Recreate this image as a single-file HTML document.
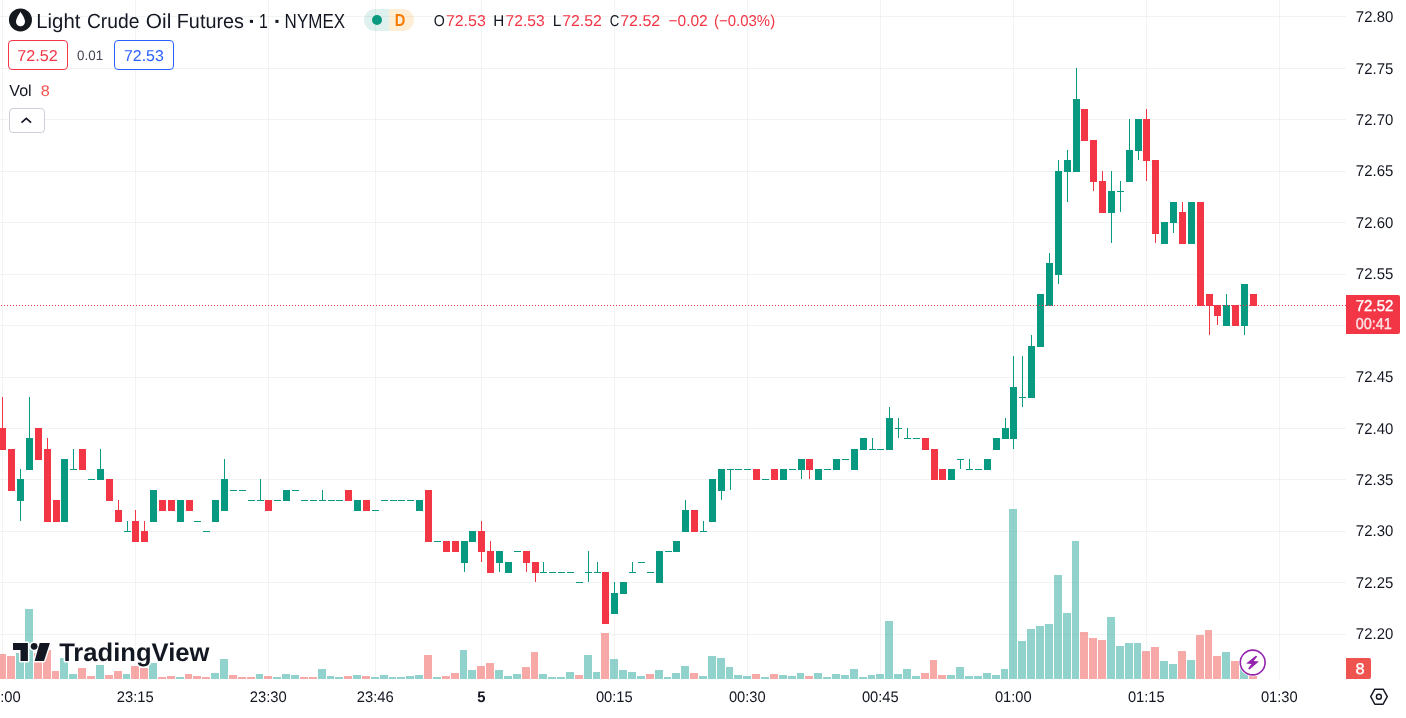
<!DOCTYPE html>
<html><head><meta charset="utf-8"><title>Light Crude Oil Futures</title>
<style>
html,body{margin:0;padding:0;background:#fff}
body{width:1406px;height:718px;position:relative;overflow:hidden;font-family:"Liberation Sans",sans-serif;color:#131722}
.chart{position:absolute;left:0;top:0}
.abs{position:absolute}
.box{position:absolute;box-sizing:border-box;border:1px solid;border-radius:4px}
</style></head><body>
<svg class="chart" width="1406" height="718" viewBox="0 0 1406 718" shape-rendering="crispEdges"><rect x="0" y="634" width="1346" height="1" fill="#264848" fill-opacity="0.06"/>
<rect x="0" y="582" width="1346" height="1" fill="#264848" fill-opacity="0.06"/>
<rect x="0" y="531" width="1346" height="1" fill="#264848" fill-opacity="0.06"/>
<rect x="0" y="479" width="1346" height="1" fill="#264848" fill-opacity="0.06"/>
<rect x="0" y="428" width="1346" height="1" fill="#264848" fill-opacity="0.06"/>
<rect x="0" y="377" width="1346" height="1" fill="#264848" fill-opacity="0.06"/>
<rect x="0" y="325" width="1346" height="1" fill="#264848" fill-opacity="0.06"/>
<rect x="0" y="274" width="1346" height="1" fill="#264848" fill-opacity="0.06"/>
<rect x="0" y="222" width="1346" height="1" fill="#264848" fill-opacity="0.06"/>
<rect x="0" y="171" width="1346" height="1" fill="#264848" fill-opacity="0.06"/>
<rect x="0" y="119" width="1346" height="1" fill="#264848" fill-opacity="0.06"/>
<rect x="0" y="68" width="1346" height="1" fill="#264848" fill-opacity="0.06"/>
<rect x="0" y="16" width="1346" height="1" fill="#264848" fill-opacity="0.06"/>
<rect x="2" y="0" width="1" height="679" fill="#264848" fill-opacity="0.06"/>
<rect x="135" y="0" width="1" height="679" fill="#264848" fill-opacity="0.06"/>
<rect x="268" y="0" width="1" height="679" fill="#264848" fill-opacity="0.06"/>
<rect x="375" y="0" width="1" height="679" fill="#264848" fill-opacity="0.06"/>
<rect x="481" y="0" width="1" height="679" fill="#264848" fill-opacity="0.06"/>
<rect x="614" y="0" width="1" height="679" fill="#264848" fill-opacity="0.06"/>
<rect x="747" y="0" width="1" height="679" fill="#264848" fill-opacity="0.06"/>
<rect x="880" y="0" width="1" height="679" fill="#264848" fill-opacity="0.06"/>
<rect x="1013" y="0" width="1" height="679" fill="#264848" fill-opacity="0.06"/>
<rect x="1146" y="0" width="1" height="679" fill="#264848" fill-opacity="0.06"/>
<rect x="1279" y="0" width="1" height="679" fill="#264848" fill-opacity="0.06"/>
<rect x="-2" y="654" width="8" height="25" fill="#EF5350" fill-opacity="0.5"/>
<rect x="7" y="656" width="8" height="23" fill="#EF5350" fill-opacity="0.5"/>
<rect x="16" y="653" width="8" height="26" fill="#26A69A" fill-opacity="0.5"/>
<rect x="25" y="609" width="8" height="70" fill="#26A69A" fill-opacity="0.5"/>
<rect x="34" y="653" width="8" height="26" fill="#EF5350" fill-opacity="0.5"/>
<rect x="43" y="650" width="8" height="29" fill="#EF5350" fill-opacity="0.5"/>
<rect x="52" y="671" width="7" height="8" fill="#EF5350" fill-opacity="0.5"/>
<rect x="60" y="658" width="8" height="21" fill="#26A69A" fill-opacity="0.5"/>
<rect x="69" y="674" width="8" height="5" fill="#26A69A" fill-opacity="0.5"/>
<rect x="78" y="668" width="8" height="11" fill="#EF5350" fill-opacity="0.5"/>
<rect x="87" y="676" width="8" height="3" fill="#EF5350" fill-opacity="0.5"/>
<rect x="96" y="665" width="8" height="14" fill="#26A69A" fill-opacity="0.5"/>
<rect x="105" y="675" width="8" height="4" fill="#EF5350" fill-opacity="0.5"/>
<rect x="114" y="671" width="8" height="8" fill="#EF5350" fill-opacity="0.5"/>
<rect x="123" y="674" width="7" height="5" fill="#26A69A" fill-opacity="0.5"/>
<rect x="131" y="666" width="8" height="13" fill="#EF5350" fill-opacity="0.5"/>
<rect x="140" y="668" width="8" height="11" fill="#EF5350" fill-opacity="0.5"/>
<rect x="149" y="663" width="8" height="16" fill="#26A69A" fill-opacity="0.5"/>
<rect x="158" y="677" width="8" height="2" fill="#EF5350" fill-opacity="0.5"/>
<rect x="167" y="676" width="8" height="3" fill="#EF5350" fill-opacity="0.5"/>
<rect x="176" y="677" width="8" height="2" fill="#26A69A" fill-opacity="0.5"/>
<rect x="185" y="674" width="7" height="5" fill="#EF5350" fill-opacity="0.5"/>
<rect x="193" y="676" width="8" height="3" fill="#EF5350" fill-opacity="0.5"/>
<rect x="202" y="677" width="8" height="2" fill="#EF5350" fill-opacity="0.5"/>
<rect x="211" y="673" width="8" height="6" fill="#26A69A" fill-opacity="0.5"/>
<rect x="220" y="659" width="8" height="20" fill="#26A69A" fill-opacity="0.5"/>
<rect x="229" y="675" width="8" height="4" fill="#EF5350" fill-opacity="0.5"/>
<rect x="238" y="677" width="8" height="2" fill="#EF5350" fill-opacity="0.5"/>
<rect x="247" y="677" width="8" height="2" fill="#EF5350" fill-opacity="0.5"/>
<rect x="256" y="674" width="7" height="5" fill="#26A69A" fill-opacity="0.5"/>
<rect x="264" y="676" width="8" height="3" fill="#EF5350" fill-opacity="0.5"/>
<rect x="273" y="677" width="8" height="2" fill="#26A69A" fill-opacity="0.5"/>
<rect x="282" y="674" width="8" height="5" fill="#26A69A" fill-opacity="0.5"/>
<rect x="291" y="675" width="8" height="4" fill="#26A69A" fill-opacity="0.5"/>
<rect x="300" y="677" width="8" height="2" fill="#EF5350" fill-opacity="0.5"/>
<rect x="309" y="677" width="8" height="2" fill="#EF5350" fill-opacity="0.5"/>
<rect x="318" y="669" width="8" height="10" fill="#26A69A" fill-opacity="0.5"/>
<rect x="327" y="676" width="7" height="3" fill="#26A69A" fill-opacity="0.5"/>
<rect x="335" y="677" width="8" height="2" fill="#26A69A" fill-opacity="0.5"/>
<rect x="344" y="676" width="8" height="3" fill="#EF5350" fill-opacity="0.5"/>
<rect x="353" y="675" width="8" height="4" fill="#26A69A" fill-opacity="0.5"/>
<rect x="362" y="676" width="8" height="3" fill="#EF5350" fill-opacity="0.5"/>
<rect x="371" y="677" width="8" height="2" fill="#26A69A" fill-opacity="0.5"/>
<rect x="380" y="675" width="8" height="4" fill="#26A69A" fill-opacity="0.5"/>
<rect x="389" y="677" width="7" height="2" fill="#26A69A" fill-opacity="0.5"/>
<rect x="397" y="677" width="8" height="2" fill="#26A69A" fill-opacity="0.5"/>
<rect x="406" y="676" width="8" height="3" fill="#26A69A" fill-opacity="0.5"/>
<rect x="415" y="675" width="8" height="4" fill="#26A69A" fill-opacity="0.5"/>
<rect x="424" y="655" width="8" height="24" fill="#EF5350" fill-opacity="0.5"/>
<rect x="433" y="677" width="8" height="2" fill="#26A69A" fill-opacity="0.5"/>
<rect x="442" y="676" width="8" height="3" fill="#EF5350" fill-opacity="0.5"/>
<rect x="451" y="673" width="8" height="6" fill="#EF5350" fill-opacity="0.5"/>
<rect x="460" y="650" width="7" height="29" fill="#26A69A" fill-opacity="0.5"/>
<rect x="468" y="670" width="8" height="9" fill="#26A69A" fill-opacity="0.5"/>
<rect x="477" y="666" width="8" height="13" fill="#EF5350" fill-opacity="0.5"/>
<rect x="486" y="663" width="8" height="16" fill="#EF5350" fill-opacity="0.5"/>
<rect x="495" y="670" width="8" height="9" fill="#26A69A" fill-opacity="0.5"/>
<rect x="504" y="676" width="8" height="3" fill="#26A69A" fill-opacity="0.5"/>
<rect x="513" y="674" width="8" height="5" fill="#26A69A" fill-opacity="0.5"/>
<rect x="522" y="667" width="8" height="12" fill="#EF5350" fill-opacity="0.5"/>
<rect x="531" y="652" width="7" height="27" fill="#EF5350" fill-opacity="0.5"/>
<rect x="539" y="674" width="8" height="5" fill="#26A69A" fill-opacity="0.5"/>
<rect x="548" y="677" width="8" height="2" fill="#26A69A" fill-opacity="0.5"/>
<rect x="557" y="677" width="8" height="2" fill="#26A69A" fill-opacity="0.5"/>
<rect x="566" y="672" width="8" height="7" fill="#26A69A" fill-opacity="0.5"/>
<rect x="575" y="675" width="8" height="4" fill="#EF5350" fill-opacity="0.5"/>
<rect x="584" y="655" width="8" height="24" fill="#26A69A" fill-opacity="0.5"/>
<rect x="593" y="672" width="7" height="7" fill="#26A69A" fill-opacity="0.5"/>
<rect x="601" y="633" width="8" height="46" fill="#EF5350" fill-opacity="0.5"/>
<rect x="610" y="659" width="8" height="20" fill="#26A69A" fill-opacity="0.5"/>
<rect x="619" y="670" width="8" height="9" fill="#26A69A" fill-opacity="0.5"/>
<rect x="628" y="672" width="8" height="7" fill="#26A69A" fill-opacity="0.5"/>
<rect x="637" y="676" width="8" height="3" fill="#26A69A" fill-opacity="0.5"/>
<rect x="646" y="674" width="8" height="5" fill="#EF5350" fill-opacity="0.5"/>
<rect x="655" y="670" width="8" height="9" fill="#26A69A" fill-opacity="0.5"/>
<rect x="664" y="677" width="7" height="2" fill="#26A69A" fill-opacity="0.5"/>
<rect x="672" y="673" width="8" height="6" fill="#26A69A" fill-opacity="0.5"/>
<rect x="681" y="666" width="8" height="13" fill="#26A69A" fill-opacity="0.5"/>
<rect x="690" y="673" width="8" height="6" fill="#EF5350" fill-opacity="0.5"/>
<rect x="699" y="676" width="8" height="3" fill="#26A69A" fill-opacity="0.5"/>
<rect x="708" y="656" width="8" height="23" fill="#26A69A" fill-opacity="0.5"/>
<rect x="717" y="658" width="8" height="21" fill="#26A69A" fill-opacity="0.5"/>
<rect x="726" y="667" width="7" height="12" fill="#26A69A" fill-opacity="0.5"/>
<rect x="734" y="675" width="8" height="4" fill="#26A69A" fill-opacity="0.5"/>
<rect x="743" y="676" width="8" height="3" fill="#26A69A" fill-opacity="0.5"/>
<rect x="752" y="674" width="8" height="5" fill="#EF5350" fill-opacity="0.5"/>
<rect x="761" y="677" width="8" height="2" fill="#26A69A" fill-opacity="0.5"/>
<rect x="770" y="674" width="8" height="5" fill="#EF5350" fill-opacity="0.5"/>
<rect x="779" y="675" width="8" height="4" fill="#26A69A" fill-opacity="0.5"/>
<rect x="788" y="676" width="8" height="3" fill="#26A69A" fill-opacity="0.5"/>
<rect x="797" y="673" width="7" height="6" fill="#26A69A" fill-opacity="0.5"/>
<rect x="805" y="676" width="8" height="3" fill="#EF5350" fill-opacity="0.5"/>
<rect x="814" y="673" width="8" height="6" fill="#26A69A" fill-opacity="0.5"/>
<rect x="823" y="677" width="8" height="2" fill="#26A69A" fill-opacity="0.5"/>
<rect x="832" y="674" width="8" height="5" fill="#26A69A" fill-opacity="0.5"/>
<rect x="841" y="675" width="8" height="4" fill="#26A69A" fill-opacity="0.5"/>
<rect x="850" y="669" width="8" height="10" fill="#26A69A" fill-opacity="0.5"/>
<rect x="859" y="677" width="8" height="2" fill="#26A69A" fill-opacity="0.5"/>
<rect x="868" y="675" width="7" height="4" fill="#26A69A" fill-opacity="0.5"/>
<rect x="876" y="674" width="8" height="5" fill="#26A69A" fill-opacity="0.5"/>
<rect x="885" y="621" width="8" height="58" fill="#26A69A" fill-opacity="0.5"/>
<rect x="894" y="674" width="8" height="5" fill="#26A69A" fill-opacity="0.5"/>
<rect x="903" y="669" width="8" height="10" fill="#26A69A" fill-opacity="0.5"/>
<rect x="912" y="676" width="8" height="3" fill="#26A69A" fill-opacity="0.5"/>
<rect x="921" y="673" width="8" height="6" fill="#EF5350" fill-opacity="0.5"/>
<rect x="930" y="660" width="7" height="19" fill="#EF5350" fill-opacity="0.5"/>
<rect x="938" y="675" width="8" height="4" fill="#EF5350" fill-opacity="0.5"/>
<rect x="947" y="675" width="8" height="4" fill="#26A69A" fill-opacity="0.5"/>
<rect x="956" y="667" width="8" height="12" fill="#26A69A" fill-opacity="0.5"/>
<rect x="965" y="676" width="8" height="3" fill="#26A69A" fill-opacity="0.5"/>
<rect x="974" y="676" width="8" height="3" fill="#26A69A" fill-opacity="0.5"/>
<rect x="983" y="673" width="8" height="6" fill="#26A69A" fill-opacity="0.5"/>
<rect x="992" y="675" width="8" height="4" fill="#26A69A" fill-opacity="0.5"/>
<rect x="1001" y="669" width="7" height="10" fill="#26A69A" fill-opacity="0.5"/>
<rect x="1009" y="509" width="8" height="170" fill="#26A69A" fill-opacity="0.5"/>
<rect x="1018" y="641" width="8" height="38" fill="#26A69A" fill-opacity="0.5"/>
<rect x="1027" y="629" width="8" height="50" fill="#26A69A" fill-opacity="0.5"/>
<rect x="1036" y="626" width="8" height="53" fill="#26A69A" fill-opacity="0.5"/>
<rect x="1045" y="624" width="8" height="55" fill="#26A69A" fill-opacity="0.5"/>
<rect x="1054" y="575" width="8" height="104" fill="#26A69A" fill-opacity="0.5"/>
<rect x="1063" y="613" width="8" height="66" fill="#26A69A" fill-opacity="0.5"/>
<rect x="1072" y="541" width="7" height="138" fill="#26A69A" fill-opacity="0.5"/>
<rect x="1080" y="632" width="8" height="47" fill="#EF5350" fill-opacity="0.5"/>
<rect x="1089" y="638" width="8" height="41" fill="#EF5350" fill-opacity="0.5"/>
<rect x="1098" y="640" width="8" height="39" fill="#EF5350" fill-opacity="0.5"/>
<rect x="1107" y="617" width="8" height="62" fill="#26A69A" fill-opacity="0.5"/>
<rect x="1116" y="646" width="8" height="33" fill="#26A69A" fill-opacity="0.5"/>
<rect x="1125" y="643" width="8" height="36" fill="#26A69A" fill-opacity="0.5"/>
<rect x="1134" y="643" width="7" height="36" fill="#26A69A" fill-opacity="0.5"/>
<rect x="1142" y="651" width="8" height="28" fill="#EF5350" fill-opacity="0.5"/>
<rect x="1151" y="647" width="8" height="32" fill="#EF5350" fill-opacity="0.5"/>
<rect x="1160" y="661" width="8" height="18" fill="#26A69A" fill-opacity="0.5"/>
<rect x="1169" y="664" width="8" height="15" fill="#26A69A" fill-opacity="0.5"/>
<rect x="1178" y="651" width="8" height="28" fill="#EF5350" fill-opacity="0.5"/>
<rect x="1187" y="660" width="8" height="19" fill="#26A69A" fill-opacity="0.5"/>
<rect x="1196" y="635" width="8" height="44" fill="#EF5350" fill-opacity="0.5"/>
<rect x="1205" y="630" width="7" height="49" fill="#EF5350" fill-opacity="0.5"/>
<rect x="1213" y="656" width="8" height="23" fill="#EF5350" fill-opacity="0.5"/>
<rect x="1222" y="652" width="8" height="27" fill="#26A69A" fill-opacity="0.5"/>
<rect x="1231" y="661" width="8" height="18" fill="#EF5350" fill-opacity="0.5"/>
<rect x="1240" y="668" width="8" height="11" fill="#26A69A" fill-opacity="0.5"/>
<rect x="1249" y="676" width="8" height="3" fill="#EF5350" fill-opacity="0.5"/>
<rect x="2" y="397" width="1" height="52" fill="#F23645"/>
<rect x="-1" y="428" width="7" height="22" fill="#F23645"/>
<rect x="8" y="449" width="7" height="42" fill="#F23645"/>
<rect x="20" y="469" width="1" height="52" fill="#089981"/>
<rect x="17" y="479" width="7" height="22" fill="#089981"/>
<rect x="29" y="397" width="1" height="72" fill="#089981"/>
<rect x="26" y="438" width="7" height="32" fill="#089981"/>
<rect x="35" y="428" width="7" height="32" fill="#F23645"/>
<rect x="47" y="438" width="1" height="83" fill="#F23645"/>
<rect x="44" y="449" width="7" height="73" fill="#F23645"/>
<rect x="53" y="500" width="7" height="22" fill="#F23645"/>
<rect x="61" y="459" width="7" height="63" fill="#089981"/>
<rect x="73" y="449" width="1" height="20" fill="#089981"/>
<rect x="70" y="469" width="7" height="1" fill="#089981"/>
<rect x="79" y="449" width="7" height="21" fill="#F23645"/>
<rect x="88" y="479" width="7" height="1" fill="#089981"/>
<rect x="100" y="449" width="1" height="30" fill="#089981"/>
<rect x="97" y="469" width="7" height="11" fill="#089981"/>
<rect x="106" y="479" width="7" height="22" fill="#F23645"/>
<rect x="118" y="500" width="1" height="21" fill="#F23645"/>
<rect x="115" y="510" width="7" height="12" fill="#F23645"/>
<rect x="127" y="521" width="1" height="10" fill="#089981"/>
<rect x="124" y="531" width="7" height="1" fill="#089981"/>
<rect x="135" y="510" width="1" height="31" fill="#F23645"/>
<rect x="132" y="521" width="7" height="21" fill="#F23645"/>
<rect x="144" y="521" width="1" height="20" fill="#F23645"/>
<rect x="141" y="531" width="7" height="11" fill="#F23645"/>
<rect x="150" y="490" width="7" height="32" fill="#089981"/>
<rect x="159" y="500" width="7" height="11" fill="#F23645"/>
<rect x="168" y="500" width="7" height="11" fill="#F23645"/>
<rect x="177" y="500" width="7" height="22" fill="#089981"/>
<rect x="186" y="500" width="7" height="11" fill="#F23645"/>
<rect x="194" y="521" width="7" height="1" fill="#089981"/>
<rect x="203" y="531" width="7" height="1" fill="#089981"/>
<rect x="212" y="500" width="7" height="22" fill="#089981"/>
<rect x="224" y="459" width="1" height="51" fill="#089981"/>
<rect x="221" y="479" width="7" height="32" fill="#089981"/>
<rect x="230" y="490" width="7" height="1" fill="#089981"/>
<rect x="239" y="490" width="7" height="1" fill="#089981"/>
<rect x="248" y="500" width="7" height="1" fill="#089981"/>
<rect x="260" y="479" width="1" height="21" fill="#089981"/>
<rect x="257" y="500" width="7" height="1" fill="#089981"/>
<rect x="265" y="500" width="7" height="11" fill="#F23645"/>
<rect x="274" y="500" width="7" height="1" fill="#089981"/>
<rect x="283" y="490" width="7" height="11" fill="#089981"/>
<rect x="292" y="490" width="7" height="1" fill="#089981"/>
<rect x="301" y="500" width="7" height="1" fill="#089981"/>
<rect x="310" y="500" width="7" height="1" fill="#089981"/>
<rect x="322" y="490" width="1" height="10" fill="#089981"/>
<rect x="319" y="500" width="7" height="1" fill="#089981"/>
<rect x="328" y="500" width="7" height="1" fill="#089981"/>
<rect x="336" y="500" width="7" height="1" fill="#089981"/>
<rect x="345" y="490" width="7" height="11" fill="#F23645"/>
<rect x="354" y="500" width="7" height="11" fill="#089981"/>
<rect x="363" y="500" width="7" height="11" fill="#F23645"/>
<rect x="372" y="510" width="7" height="1" fill="#089981"/>
<rect x="381" y="500" width="7" height="1" fill="#089981"/>
<rect x="390" y="500" width="7" height="1" fill="#089981"/>
<rect x="398" y="500" width="7" height="1" fill="#089981"/>
<rect x="407" y="500" width="7" height="1" fill="#089981"/>
<rect x="416" y="500" width="7" height="11" fill="#089981"/>
<rect x="425" y="490" width="7" height="52" fill="#F23645"/>
<rect x="434" y="541" width="7" height="1" fill="#089981"/>
<rect x="443" y="541" width="7" height="11" fill="#F23645"/>
<rect x="452" y="541" width="7" height="11" fill="#F23645"/>
<rect x="464" y="541" width="1" height="31" fill="#089981"/>
<rect x="461" y="541" width="7" height="22" fill="#089981"/>
<rect x="469" y="531" width="7" height="11" fill="#089981"/>
<rect x="481" y="521" width="1" height="41" fill="#F23645"/>
<rect x="478" y="531" width="7" height="21" fill="#F23645"/>
<rect x="490" y="541" width="1" height="31" fill="#F23645"/>
<rect x="487" y="551" width="7" height="22" fill="#F23645"/>
<rect x="499" y="551" width="1" height="21" fill="#089981"/>
<rect x="496" y="551" width="7" height="12" fill="#089981"/>
<rect x="505" y="562" width="7" height="11" fill="#089981"/>
<rect x="514" y="551" width="7" height="1" fill="#089981"/>
<rect x="526" y="551" width="1" height="21" fill="#F23645"/>
<rect x="523" y="551" width="7" height="12" fill="#F23645"/>
<rect x="535" y="562" width="1" height="20" fill="#F23645"/>
<rect x="532" y="562" width="7" height="11" fill="#F23645"/>
<rect x="543" y="562" width="1" height="10" fill="#089981"/>
<rect x="540" y="572" width="7" height="1" fill="#089981"/>
<rect x="549" y="572" width="7" height="1" fill="#089981"/>
<rect x="558" y="572" width="7" height="1" fill="#089981"/>
<rect x="567" y="572" width="7" height="1" fill="#089981"/>
<rect x="576" y="582" width="7" height="1" fill="#089981"/>
<rect x="588" y="551" width="1" height="31" fill="#089981"/>
<rect x="585" y="572" width="7" height="1" fill="#089981"/>
<rect x="597" y="562" width="1" height="10" fill="#089981"/>
<rect x="594" y="572" width="7" height="1" fill="#089981"/>
<rect x="602" y="572" width="7" height="52" fill="#F23645"/>
<rect x="614" y="582" width="1" height="31" fill="#089981"/>
<rect x="611" y="593" width="7" height="21" fill="#089981"/>
<rect x="620" y="582" width="7" height="12" fill="#089981"/>
<rect x="632" y="562" width="1" height="10" fill="#089981"/>
<rect x="629" y="572" width="7" height="1" fill="#089981"/>
<rect x="638" y="562" width="7" height="1" fill="#089981"/>
<rect x="647" y="572" width="7" height="1" fill="#089981"/>
<rect x="656" y="551" width="7" height="32" fill="#089981"/>
<rect x="665" y="551" width="7" height="1" fill="#089981"/>
<rect x="673" y="541" width="7" height="11" fill="#089981"/>
<rect x="685" y="500" width="1" height="31" fill="#089981"/>
<rect x="682" y="510" width="7" height="22" fill="#089981"/>
<rect x="691" y="510" width="7" height="22" fill="#F23645"/>
<rect x="703" y="521" width="1" height="10" fill="#089981"/>
<rect x="700" y="531" width="7" height="1" fill="#089981"/>
<rect x="709" y="479" width="7" height="43" fill="#089981"/>
<rect x="721" y="469" width="1" height="31" fill="#089981"/>
<rect x="718" y="469" width="7" height="22" fill="#089981"/>
<rect x="730" y="469" width="1" height="21" fill="#089981"/>
<rect x="727" y="469" width="7" height="1" fill="#089981"/>
<rect x="735" y="469" width="7" height="1" fill="#089981"/>
<rect x="744" y="469" width="7" height="1" fill="#089981"/>
<rect x="753" y="469" width="7" height="11" fill="#F23645"/>
<rect x="762" y="479" width="7" height="1" fill="#089981"/>
<rect x="771" y="469" width="7" height="11" fill="#F23645"/>
<rect x="780" y="469" width="7" height="11" fill="#089981"/>
<rect x="789" y="469" width="7" height="1" fill="#089981"/>
<rect x="801" y="459" width="1" height="20" fill="#089981"/>
<rect x="798" y="459" width="7" height="11" fill="#089981"/>
<rect x="809" y="459" width="1" height="20" fill="#F23645"/>
<rect x="806" y="459" width="7" height="11" fill="#F23645"/>
<rect x="815" y="469" width="7" height="11" fill="#089981"/>
<rect x="824" y="469" width="7" height="1" fill="#089981"/>
<rect x="833" y="459" width="7" height="11" fill="#089981"/>
<rect x="842" y="459" width="7" height="1" fill="#089981"/>
<rect x="851" y="449" width="7" height="21" fill="#089981"/>
<rect x="860" y="438" width="7" height="12" fill="#089981"/>
<rect x="872" y="438" width="1" height="11" fill="#089981"/>
<rect x="869" y="449" width="7" height="1" fill="#089981"/>
<rect x="877" y="449" width="7" height="1" fill="#089981"/>
<rect x="889" y="407" width="1" height="42" fill="#089981"/>
<rect x="886" y="418" width="7" height="32" fill="#089981"/>
<rect x="898" y="418" width="1" height="20" fill="#089981"/>
<rect x="895" y="428" width="7" height="1" fill="#089981"/>
<rect x="907" y="428" width="1" height="10" fill="#089981"/>
<rect x="904" y="438" width="7" height="1" fill="#089981"/>
<rect x="913" y="438" width="7" height="1" fill="#089981"/>
<rect x="922" y="438" width="7" height="12" fill="#F23645"/>
<rect x="931" y="449" width="7" height="31" fill="#F23645"/>
<rect x="939" y="469" width="7" height="11" fill="#F23645"/>
<rect x="948" y="469" width="7" height="11" fill="#089981"/>
<rect x="960" y="459" width="1" height="10" fill="#089981"/>
<rect x="957" y="459" width="7" height="1" fill="#089981"/>
<rect x="969" y="459" width="1" height="10" fill="#089981"/>
<rect x="966" y="469" width="7" height="1" fill="#089981"/>
<rect x="975" y="469" width="7" height="1" fill="#089981"/>
<rect x="984" y="459" width="7" height="11" fill="#089981"/>
<rect x="993" y="438" width="7" height="12" fill="#089981"/>
<rect x="1005" y="418" width="1" height="20" fill="#089981"/>
<rect x="1002" y="428" width="7" height="11" fill="#089981"/>
<rect x="1013" y="356" width="1" height="93" fill="#089981"/>
<rect x="1010" y="387" width="7" height="52" fill="#089981"/>
<rect x="1022" y="356" width="1" height="51" fill="#089981"/>
<rect x="1019" y="397" width="7" height="1" fill="#089981"/>
<rect x="1031" y="335" width="1" height="62" fill="#089981"/>
<rect x="1028" y="346" width="7" height="52" fill="#089981"/>
<rect x="1037" y="294" width="7" height="53" fill="#089981"/>
<rect x="1049" y="253" width="1" height="52" fill="#089981"/>
<rect x="1046" y="263" width="7" height="43" fill="#089981"/>
<rect x="1058" y="160" width="1" height="124" fill="#089981"/>
<rect x="1055" y="171" width="7" height="104" fill="#089981"/>
<rect x="1067" y="150" width="1" height="52" fill="#089981"/>
<rect x="1064" y="160" width="7" height="12" fill="#089981"/>
<rect x="1076" y="68" width="1" height="103" fill="#089981"/>
<rect x="1073" y="99" width="7" height="73" fill="#089981"/>
<rect x="1081" y="109" width="7" height="32" fill="#F23645"/>
<rect x="1093" y="140" width="1" height="51" fill="#F23645"/>
<rect x="1090" y="140" width="7" height="42" fill="#F23645"/>
<rect x="1102" y="171" width="1" height="41" fill="#F23645"/>
<rect x="1099" y="181" width="7" height="32" fill="#F23645"/>
<rect x="1111" y="171" width="1" height="72" fill="#089981"/>
<rect x="1108" y="191" width="7" height="22" fill="#089981"/>
<rect x="1120" y="181" width="1" height="31" fill="#089981"/>
<rect x="1117" y="191" width="7" height="1" fill="#089981"/>
<rect x="1129" y="119" width="1" height="62" fill="#089981"/>
<rect x="1126" y="150" width="7" height="32" fill="#089981"/>
<rect x="1138" y="119" width="1" height="41" fill="#089981"/>
<rect x="1135" y="119" width="7" height="32" fill="#089981"/>
<rect x="1146" y="109" width="1" height="72" fill="#F23645"/>
<rect x="1143" y="119" width="7" height="42" fill="#F23645"/>
<rect x="1155" y="160" width="1" height="83" fill="#F23645"/>
<rect x="1152" y="160" width="7" height="74" fill="#F23645"/>
<rect x="1161" y="222" width="7" height="22" fill="#089981"/>
<rect x="1173" y="202" width="1" height="31" fill="#089981"/>
<rect x="1170" y="202" width="7" height="21" fill="#089981"/>
<rect x="1182" y="202" width="1" height="41" fill="#F23645"/>
<rect x="1179" y="212" width="7" height="32" fill="#F23645"/>
<rect x="1188" y="202" width="7" height="42" fill="#089981"/>
<rect x="1197" y="202" width="7" height="104" fill="#F23645"/>
<rect x="1209" y="294" width="1" height="41" fill="#F23645"/>
<rect x="1206" y="294" width="7" height="12" fill="#F23645"/>
<rect x="1217" y="305" width="1" height="20" fill="#F23645"/>
<rect x="1214" y="305" width="7" height="11" fill="#F23645"/>
<rect x="1226" y="294" width="1" height="31" fill="#089981"/>
<rect x="1223" y="305" width="7" height="21" fill="#089981"/>
<rect x="1232" y="305" width="7" height="21" fill="#F23645"/>
<rect x="1244" y="284" width="1" height="51" fill="#089981"/>
<rect x="1241" y="284" width="7" height="42" fill="#089981"/>
<rect x="1250" y="294" width="7" height="12" fill="#F23645"/>
<line x1="1" y1="305.5" x2="1346" y2="305.5" stroke="#F23645" stroke-width="1" stroke-dasharray="1 2"/></svg>
<svg class="abs" style="left:8px;top:8px" width="25" height="25" viewBox="8 8 25 25">
<circle cx="20.45" cy="19.9" r="11.5" fill="#14171C"/>
<path d="M20.5 11.7 C19.3 13.8 16.0 18.6 16.0 21.7 a4.5 4.5 0 0 0 9 0 C25.2 18.6 21.7 13.8 20.5 11.7 Z" fill="#fff"/>
</svg>
<div class="abs" style="left:364px;top:9px;width:25px;height:22px;border-radius:11px 0 0 11px;background:rgba(8,153,129,0.135)"></div><div class="abs" style="left:389px;top:9px;width:25px;height:22px;border-radius:0 11px 11px 0;background:rgba(255,152,0,0.16)"></div><div class="abs" style="left:372px;top:15px;width:10px;height:10px;border-radius:50%;background:#089981"></div>
<div class="box" style="left:8px;top:40px;width:60px;height:30px;background:#fff;border-color:#F23645"></div>
<div class="box" style="left:114px;top:40px;width:60px;height:30px;background:#fff;border-color:#2962FF"></div>
<div class="box" style="left:9px;top:108px;width:36px;height:25px;border-color:#CDD0DA;border-radius:4px;background:#fff"></div>
<svg class="abs" style="left:19px;top:114px" width="16" height="14" viewBox="0 0 16 14"><path d="M2.5 8.7 L7.3 4.3 L12.1 8.7" fill="none" stroke="#131722" stroke-width="1.6"/></svg>
<div class="abs" style="left:1346px;top:295px;width:54px;height:39px;background:#F23645;border-radius:0 2px 2px 0"></div>
<div class="abs" style="left:1346px;top:658px;width:25px;height:21px;background:#EF5350;border-radius:0 2px 2px 0"></div>
<svg class="abs" style="left:1366px;top:685px" width="26" height="24" viewBox="1366 685 26 24">
<path d="M1370.7 696.7 L1374.8 689.2 H1383.1 L1387.3 696.7 L1383.1 704.2 H1374.8 Z" fill="none" stroke="#131722" stroke-width="1.45" stroke-linejoin="round"/>
<circle cx="1378.9" cy="696.7" r="2.5" fill="none" stroke="#131722" stroke-width="1.4"/></svg>
<svg class="abs" style="left:1236px;top:646px" width="33" height="33" viewBox="-16.5 -16.5 33 33">
<circle cx="0.2" cy="0" r="13.9" fill="#fff"/>
<circle cx="0.2" cy="0" r="12.4" fill="#fff" stroke="#9423AE" stroke-width="1.6"/>
<path d="M3.24 -6.75 L4.77 -5.96 L1.09 -1.48 L6.42 -1.05 L-3.01 6.91 L-4.36 5.99 L-0.93 1.52 L-6.38 0.91 Z" fill="#9423AE"/></svg>
<svg class="abs" style="left:8px;top:636px" width="50" height="32" viewBox="8 636 50 32">
<g stroke="#fff" stroke-width="3" stroke-linejoin="round" fill="#fff">
<path d="M13 643 H27.9 V660.9 H20.5 V650 H13 Z"/><circle cx="34.1" cy="646.3" r="3.4"/><path d="M39.7 643 H49.9 L44 660.9 H34.6 Z"/>
</g>
<g fill="#131722">
<path d="M13 643 H27.9 V660.9 H20.5 V650 H13 Z"/><circle cx="34.1" cy="646.3" r="3.4"/><path d="M39.7 643 H49.9 L44 660.9 H34.6 Z"/>
</g></svg>
<svg class="chart" width="1406" height="718" viewBox="0 0 1406 718" font-family="Liberation Sans, sans-serif" text-rendering="geometricPrecision">
<text transform="translate(1355.85,639) scale(0.9965,1.0350)" font-size="15" fill="#131722">72.20</text>
<text transform="translate(1355.85,588) scale(0.9976,1.0350)" font-size="15" fill="#131722">72.25</text>
<text transform="translate(1355.85,536) scale(0.9965,1.0350)" font-size="15" fill="#131722">72.30</text>
<text transform="translate(1355.85,485) scale(0.9976,1.0350)" font-size="15" fill="#131722">72.35</text>
<text transform="translate(1355.85,434) scale(0.9965,1.0350)" font-size="15" fill="#131722">72.40</text>
<text transform="translate(1355.85,382) scale(0.9976,1.0350)" font-size="15" fill="#131722">72.45</text>
<text transform="translate(1355.85,279) scale(0.9976,1.0350)" font-size="15" fill="#131722">72.55</text>
<text transform="translate(1355.85,228) scale(0.9965,1.0350)" font-size="15" fill="#131722">72.60</text>
<text transform="translate(1355.85,176) scale(0.9976,1.0350)" font-size="15" fill="#131722">72.65</text>
<text transform="translate(1355.85,125) scale(0.9965,1.0350)" font-size="15" fill="#131722">72.70</text>
<text transform="translate(1355.85,74) scale(0.9976,1.0350)" font-size="15" fill="#131722">72.75</text>
<text transform="translate(1355.85,22) scale(0.9965,1.0350)" font-size="15" fill="#131722">72.80</text>
<text transform="translate(116.71,702) scale(0.9865,1.0200)" font-size="15" fill="#131722">23:15</text>
<text transform="translate(249.71,702) scale(0.9855,1.0200)" font-size="15" fill="#131722">23:30</text>
<text transform="translate(356.71,702) scale(0.9876,1.0200)" font-size="15" fill="#131722">23:46</text>
<text transform="translate(595.90,702) scale(0.9814,1.0200)" font-size="15" fill="#131722">00:15</text>
<text transform="translate(728.90,702) scale(0.9804,1.0200)" font-size="15" fill="#131722">00:30</text>
<text transform="translate(861.90,702) scale(0.9814,1.0200)" font-size="15" fill="#131722">00:45</text>
<text transform="translate(994.90,702) scale(0.9804,1.0200)" font-size="15" fill="#131722">01:00</text>
<text transform="translate(1127.90,702) scale(0.9814,1.0200)" font-size="15" fill="#131722">01:15</text>
<text transform="translate(1260.90,702) scale(0.9804,1.0200)" font-size="15" fill="#131722">01:30</text>
<text transform="translate(-16.29,702) scale(0.9855,1.0200)" font-size="15" fill="#131722">23:00</text>
<text transform="translate(477.16,702) scale(0.9867,1.0200)" font-size="15" font-weight="bold" fill="#131722">5</text>
<text transform="translate(36.22,28) scale(1.0181,1.0170)" font-size="20" fill="#131722">Light</text>
<text transform="translate(86.94,28) scale(0.9639,1.0170)" font-size="20" fill="#131722">Crude</text>
<text transform="translate(145.81,28) scale(1.0429,1.0170)" font-size="20" fill="#131722">Oil</text>
<text transform="translate(176.76,28) scale(0.9916,1.0170)" font-size="20" fill="#131722">Futures</text>
<text transform="translate(245.94,29) scale(1.1722,1.0000)" font-size="28" fill="#131722">·</text>
<text transform="translate(259.10,28) scale(0.7977,1.0170)" font-size="20" fill="#131722">1</text>
<text transform="translate(271.54,29) scale(1.1722,1.0000)" font-size="28" fill="#131722">·</text>
<text transform="translate(284.60,28) scale(0.8501,1.0170)" font-size="20" fill="#131722">NYMEX</text>
<text transform="translate(394.86,26) scale(0.8350,1.0000)" font-size="17.5" font-weight="bold" fill="#F57C00">D</text>
<text transform="translate(433.72,26) scale(0.9475,1.0500)" font-size="15" fill="#131722">O</text>
<text transform="translate(445.90,26) scale(1.0622,1.0500)" font-size="15" fill="#F23645">72.53</text>
<text transform="translate(493.24,26) scale(1.0164,1.0500)" font-size="15" fill="#131722">H</text>
<text transform="translate(505.62,26) scale(1.0401,1.0500)" font-size="15" fill="#F23645">72.53</text>
<text transform="translate(552.73,26) scale(1.0303,1.0500)" font-size="15" fill="#131722">L</text>
<text transform="translate(562.21,26) scale(1.0534,1.0500)" font-size="15" fill="#F23645">72.52</text>
<text transform="translate(609.84,26) scale(0.8819,1.0500)" font-size="15" fill="#131722">C</text>
<text transform="translate(620.20,26) scale(1.0672,1.0500)" font-size="15" fill="#F23645">72.52</text>
<text transform="translate(668.46,26) scale(1.0349,1.0500)" font-size="15" fill="#F23645">−0.02</text>
<text transform="translate(714.07,26) scale(0.9960,1.0500)" font-size="15" fill="#F23645">(−0.03%)</text>
<text transform="translate(17.29,61) scale(1.0783,1.0500)" font-size="15" fill="#F23645">72.52</text>
<text transform="translate(77.10,60) scale(0.9736,1.0000)" font-size="13.75" fill="#434651">0.01</text>
<text transform="translate(124.01,61) scale(1.0595,1.0500)" font-size="15" fill="#2962FF">72.53</text>
<text transform="translate(9.32,96) scale(1.0727,1.0700)" font-size="15" fill="#131722">Vol</text>
<text transform="translate(40.71,96) scale(1.0780,1.0300)" font-size="15" fill="#EF5350">8</text>
<text transform="translate(1355.75,311) scale(1.0035,1.0500)" font-size="15" fill="#fff" stroke="#fff" stroke-width="0.35">72.52</text>
<text transform="translate(1355.66,329) scale(0.9652,1.0600)" font-size="15" fill="#fff" fill-opacity="0.82" stroke="#fff" stroke-width="0.35" stroke-opacity="0.82">00:41</text>
<text transform="translate(1355.50,674) scale(1.0922,1.0400)" font-size="15" fill="#fff" stroke="#fff" stroke-width="0.35">8</text>
<text transform="translate(59.14,661) scale(1.0004,1.0000)" font-size="25.6" font-weight="bold" fill="#131722" stroke="#fff" stroke-width="3" stroke-linejoin="round" paint-order="stroke">TradingView</text>
</svg>
</body></html>
